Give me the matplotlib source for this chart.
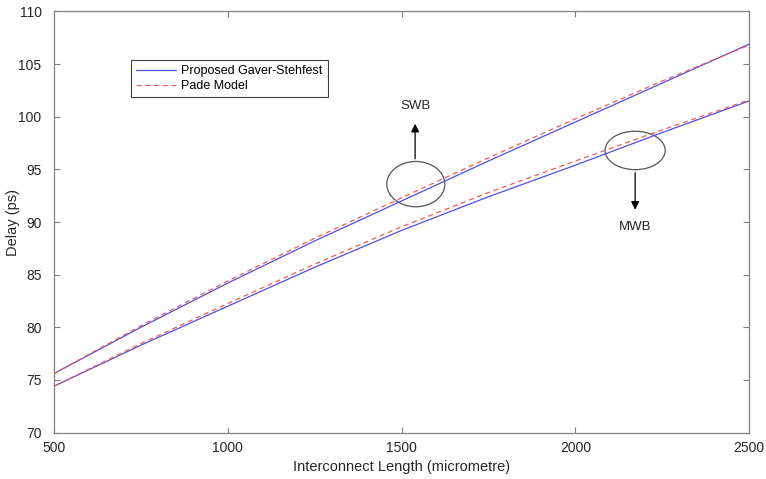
import matplotlib
matplotlib.use("Agg")
import matplotlib.pyplot as plt
from matplotlib.patches import Ellipse

plt.rcParams['font.family'] = ['Liberation Sans', 'DejaVu Sans']

length = [500, 750, 1000, 1250, 1500, 1750, 2000, 2250, 2500]
swb_gs = [75.6, 80.0, 84.2, 88.2, 92.0, 95.8, 99.5, 103.2, 106.9]
swb_pade = [75.6, 80.15, 84.4, 88.45, 92.3, 96.1, 99.8, 103.4, 106.8]
mwb_gs = [74.4, 78.3, 82.0, 85.7, 89.2, 92.4, 95.4, 98.5, 101.5]
mwb_pade = [74.4, 78.45, 82.25, 86.0, 89.55, 92.8, 95.8, 98.75, 101.6]

xticks = [500, 1000, 1500, 2000, 2500]
yticks = [70, 75, 80, 85, 90, 95, 100, 105, 110]

blue = '#5050e0'
red = '#f05a5a'
gray = '#808080'
txt = '#262626'

fig = plt.figure(figsize=(7.66, 4.79), dpi=100)
ax = fig.add_axes([0.0705, 0.097, 0.9075, 0.879])

ax.plot(length, swb_gs, color=blue, lw=0.9, label='Proposed Gaver-Stehfest')
ax.plot(length, swb_pade, color=red, lw=0.9, ls=(0, (4, 3)), label='Pade Model')
ax.plot(length, mwb_gs, color=blue, lw=0.9)
ax.plot(length, mwb_pade, color=red, lw=0.9, ls=(0, (4, 3)))

ax.set_xlim(500, 2500)
ax.set_ylim(70, 110)
ax.set_xticks(xticks)
ax.set_yticks(yticks)
ax.tick_params(direction='in', top=True, right=True, length=4, width=0.8,
               colors=gray, labelcolor=txt, labelsize=10)
ax.tick_params(axis='y', pad=9)
ax.tick_params(axis='x', pad=6)
for s in ax.spines.values():
    s.set_color(gray)
    s.set_linewidth(0.9)

ax.set_xlabel('Interconnect Length (micrometre)', fontsize=10.5, color=txt, labelpad=4)
ax.set_ylabel('Delay (ps)', fontsize=10.5, color=txt)
ax.yaxis.set_label_coords(-0.049, 0.5)

# annotations
ax.add_patch(Ellipse((1541, 93.6), 167, 4.3, fill=False, ec='#555555', lw=0.9))
ax.add_patch(Ellipse((2172, 96.8), 173, 3.65, fill=False, ec='#555555', lw=0.9))
ax.annotate('', xy=(1539, 99.6), xytext=(1539, 95.75),
            arrowprops=dict(arrowstyle='-|>', color='black', lw=0.9, mutation_scale=12))
ax.annotate('', xy=(2172, 90.9), xytext=(2172, 94.95),
            arrowprops=dict(arrowstyle='-|>', color='black', lw=0.9, mutation_scale=12))
ax.text(1539, 101.0, 'SWB', ha='center', va='center', fontsize=9.5, color=txt)
ax.text(2172, 89.5, 'MWB', ha='center', va='center', fontsize=9.5, color=txt)

leg = ax.legend(loc='upper left', bbox_to_anchor=(0.111, 0.884), fontsize=9,
                frameon=True, fancybox=False, edgecolor='#404040', framealpha=1,
                handlelength=3.2, borderpad=0.4, labelspacing=0.25, handletextpad=0.4,
                borderaxespad=0)
leg.get_frame().set_linewidth(0.8)

fig.savefig('out.png', dpi=100)
